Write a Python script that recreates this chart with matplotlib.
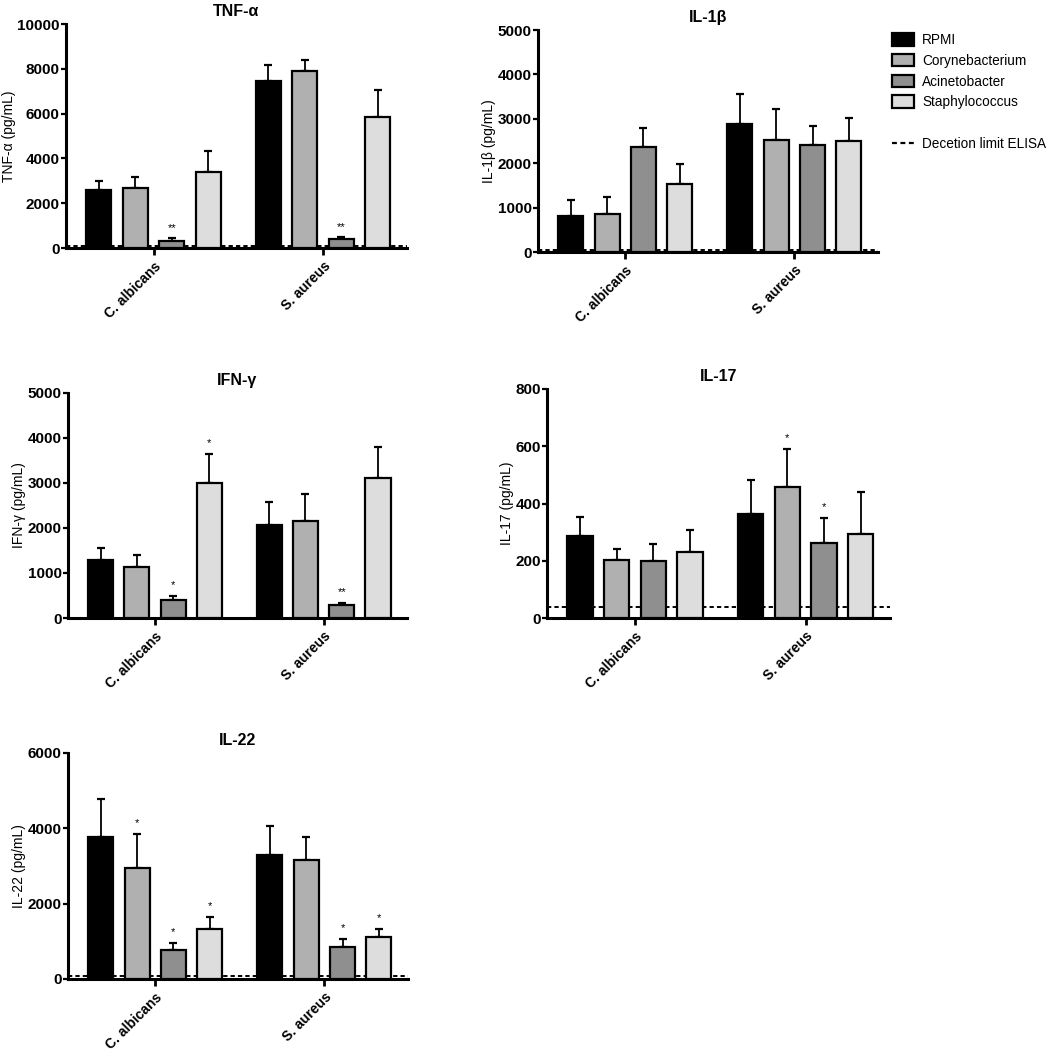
import numpy as np
import matplotlib
matplotlib.use("Agg")
import matplotlib.pyplot as plt
from matplotlib.patches import Patch
from matplotlib.lines import Line2D

plt.rcParams['font.family'] = ['Liberation Sans', 'DejaVu Sans']

groups = ["C. albicans", "S. aureus"]
conditions = ["RPMI", "Corynebacterium", "Acinetobacter", "Staphylococcus"]
colors = ["#000000", "#b0b0b0", "#8f8f8f", "#dddddd"]

# means / SEM per condition: [C. albicans, S. aureus]
tnf_mean = [[2600, 7460], [2700, 7880], [310, 380], [3380, 5850]]
tnf_sem = [[400, 700], [490, 520], [120, 95], [960, 1220]]
tnf_sig = [["", ""], ["", ""], ["**", "**"], ["", ""]]

il1b_mean = [[800, 2890], [860, 2530], [2360, 2410], [1540, 2510]]
il1b_sem = [[380, 670], [390, 690], [440, 420], [450, 500]]
il1b_sig = [["", ""], ["", ""], ["", ""], ["", ""]]

ifn_mean = [[1280, 2060], [1140, 2160], [400, 300], [3010, 3110]]
ifn_sem = [[280, 520], [270, 600], [90, 40], [640, 690]]
ifn_sig = [["", ""], ["", ""], ["*", "**"], ["*", ""]]

il17_mean = [[287, 362], [201, 457], [198, 263], [230, 295]]
il17_sem = [[67, 119], [41, 134], [60, 88], [77, 145]]
il17_sig = [["", ""], ["", "*"], ["", "*"], ["", ""]]

il22_mean = [[3770, 3280], [2940, 3160], [760, 860], [1340, 1110]]
il22_sem = [[1000, 770], [920, 600], [200, 200], [310, 220]]
il22_sig = [["", ""], ["*", ""], ["*", "*"], ["*", "*"]]

titles = ["TNF-α", "IL-1β", "IFN-γ", "IL-17", "IL-22"]
ylabels = ["TNF-α (pg/mL)", "IL-1β (pg/mL)", "IFN-γ (pg/mL)", "IL-17 (pg/mL)", "IL-22 (pg/mL)"]
yticks = [[0, 2000, 4000, 6000, 8000, 10000],
          [0, 1000, 2000, 3000, 4000, 5000],
          [0, 1000, 2000, 3000, 4000, 5000],
          [0, 200, 400, 600, 800],
          [0, 2000, 4000, 6000]]
det_limits = [100, 40, None, 38, 90]

panels = [(tnf_mean, tnf_sem, tnf_sig), (il1b_mean, il1b_sem, il1b_sig),
          (ifn_mean, ifn_sem, ifn_sig), (il17_mean, il17_sem, il17_sig),
          (il22_mean, il22_sem, il22_sig)]

W = 1050.0
boxes_px = [(66, 24, 407, 248), (538, 30, 878, 252), (68, 393, 407, 618),
            (547, 389, 890, 618), (68, 753, 408, 979)]

fig = plt.figure(figsize=(10.5, 10.5), dpi=100)

group_pos = np.array([0.0, 4.65])
offsets = np.array([-1.5, -0.5, 0.5, 1.5])
bw = 0.69

for i, (mean, sem, sig) in enumerate(panels):
    x0, y0, x1, y1 = boxes_px[i]
    ax = fig.add_axes([x0 / W, 1 - y1 / W, (x1 - x0) / W, (y1 - y0) / W])
    ymax = yticks[i][-1]
    for c in range(4):
        xs = group_pos + offsets[c]
        m = np.array(mean[c], dtype=float)
        s = np.array(sem[c], dtype=float)
        ax.bar(xs, m, width=bw, color=colors[c], edgecolor='black', linewidth=1.6, zorder=3)
        ax.errorbar(xs, m, yerr=[np.zeros_like(s), s], fmt='none', ecolor='black',
                    elinewidth=1.3, capsize=3, capthick=1.6, zorder=2)
        for g in range(2):
            if sig[c][g]:
                ax.annotate(sig[c][g], (xs[g], m[g] + s[g]), xytext=(0, 4),
                            textcoords='offset points', ha='center', va='bottom',
                            fontsize=8)
    if det_limits[i] is not None:
        ax.axhline(det_limits[i], color='black', linestyle=(0, (2.2, 1.6)), linewidth=1.4, zorder=1)
    ax.set_xlim(-2.4, 6.95)
    ax.set_ylim(0, ymax)
    ax.set_yticks(yticks[i])
    ax.set_yticklabels([str(t) for t in yticks[i]], fontsize=11, fontweight='bold')
    ax.set_xticks(group_pos)
    ax.set_xticklabels(groups, rotation=45, ha='right', rotation_mode='anchor',
                       fontsize=10, fontweight='bold')
    ax.tick_params(axis='y', direction='out', length=3.5, width=1.6, pad=1)
    ax.tick_params(axis='x', direction='out', length=5, width=2, pad=3)
    for sp in ['top', 'right']:
        ax.spines[sp].set_visible(False)
    for sp in ['left', 'bottom']:
        ax.spines[sp].set_linewidth(2.2)
    ax.set_title(titles[i], fontsize=11.5, fontweight='bold', pad=6)
    ax.set_ylabel(ylabels[i], fontsize=10, labelpad=1)

handles = [Patch(facecolor=c, edgecolor='black', linewidth=1.6) for c in colors]
handles.append(Line2D([], [], color='none'))
handles.append(Line2D([], [], color='black', linestyle=(0, (2.2, 1.6)), linewidth=1.6))
labels = conditions + [" ", "Decetion limit ELISA"]
fig.legend(handles, labels, loc='upper left', bbox_to_anchor=(892 / W, 1 - 33 / W),
           frameon=False, fontsize=9.8, handlelength=1.6, handleheight=1.05,
           handletextpad=0.6, labelspacing=0.5, borderpad=0, borderaxespad=0)

fig.savefig("out.png", dpi=100)
